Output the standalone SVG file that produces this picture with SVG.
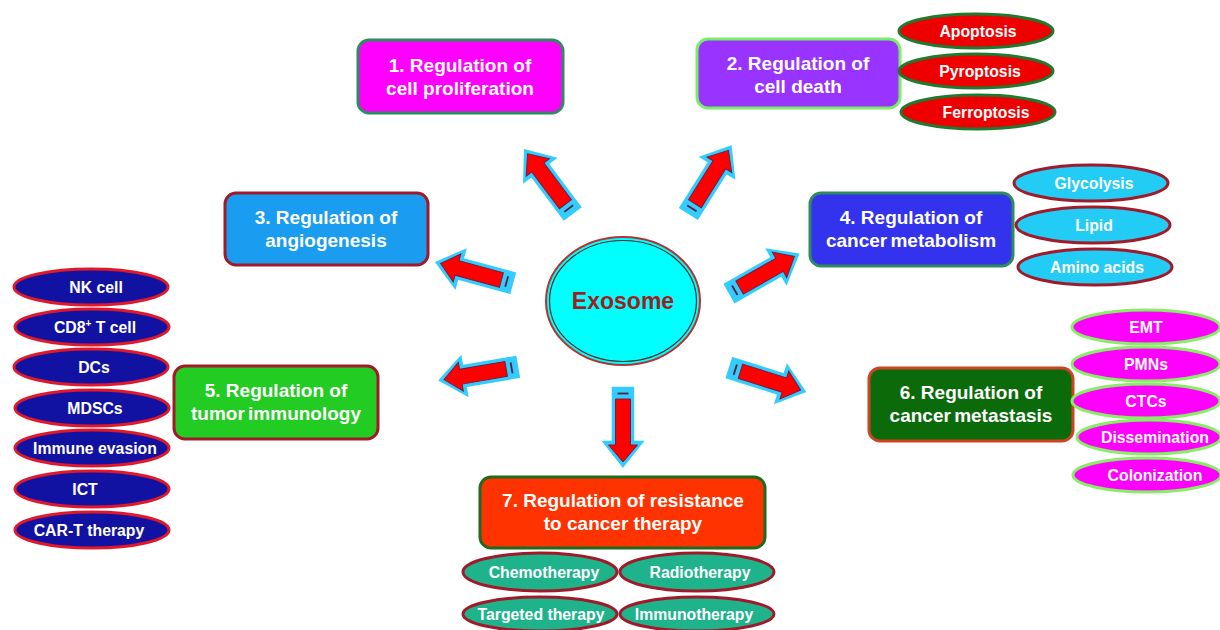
<svg xmlns="http://www.w3.org/2000/svg" xmlns:xlink="http://www.w3.org/1999/xlink" width="1220" height="630" viewBox="0 0 1220 630">
<defs>
<style>
text{font-family:"Liberation Sans",Arial,sans-serif;font-weight:bold;text-anchor:middle}
.bt{font-size:19px;fill:#ffffff}
.et{font-size:15.8px;fill:#ffffff}
.box{stroke-width:3}
.ell{stroke-width:3}
.red{fill:#EE0000;stroke:#1E7A2E}
.cy{fill:#22CCF5;stroke:#A01A2A}
.nv{fill:#1212A2;stroke:#E0182A}
.mg{fill:#FF00FF;stroke:#88EE66}
.tl{fill:#1FB38C;stroke:#A01A2A}
.tight{word-spacing:-2px}
</style>
<g id="arr">
<polygon points="0,-10 54,-10 54,-19 78,0 54,19 54,10 0,10" fill="#33CCFF" stroke="#33CCFF" stroke-width="2.5" stroke-linejoin="miter"/>
<polygon points="11,-7.5 57,-7.5 57,-14.5 74,0 57,14.5 57,7.5 11,7.5" fill="#FF0000" stroke="#7A1A3A" stroke-width="1"/>
<line x1="5.5" y1="-5.5" x2="5.5" y2="5.5" stroke="#5A2040" stroke-width="1.8"/>
</g>
</defs>
<rect width="1220" height="630" fill="#ffffff"/>

<g id="connectors">
<use xlink:href="#arr" transform="translate(572,213) rotate(-126.9)"/>
<use xlink:href="#arr" transform="translate(689,213) rotate(-57.8)"/>
<use xlink:href="#arr" transform="translate(512,283) rotate(195.3)"/>
<use xlink:href="#arr" transform="translate(730,293) rotate(-29.6)"/>
<use xlink:href="#arr" transform="translate(517,367) rotate(170.2)"/>
<use xlink:href="#arr" transform="translate(730,368) rotate(17.4)"/>
<use xlink:href="#arr" transform="translate(623,388) rotate(90)"/>
</g>

<g id="exosome">
<ellipse cx="623" cy="301" rx="77" ry="64" fill="#00FFFF" stroke="#B83030" stroke-width="2"/>
<ellipse cx="623" cy="301" rx="73.5" ry="60.5" fill="none" stroke="#3A2A2A" stroke-width="1.2"/>
<text x="623" y="309" style="font-size:23px;fill:#A01E1E">Exosome</text>
</g>

<g id="n1">
<rect class="box" x="358" y="40" width="205" height="73" rx="11" fill="#FF00FF" stroke="#2E8B60"/>
<text class="bt" x="460" y="72">1. Regulation of</text>
<text class="bt" x="460" y="95">cell proliferation</text>
</g>

<g id="n2">
<rect class="box" x="697" y="39" width="203" height="69" rx="11" fill="#9933FF" stroke="#77EE66"/>
<text class="bt" x="798" y="70">2. Regulation of</text>
<text class="bt" x="798" y="93">cell death</text>
<ellipse class="ell red" cx="976" cy="31" rx="77" ry="17"/>
<text class="et" x="978" y="37">Apoptosis</text>
<ellipse class="ell red" cx="976" cy="71" rx="77" ry="17"/>
<text class="et" x="980" y="77">Pyroptosis</text>
<ellipse class="ell red" cx="978" cy="112" rx="77" ry="17"/>
<text class="et" x="986" y="118">Ferroptosis</text>
</g>

<g id="n3">
<rect class="box" x="225" y="193" width="203" height="72" rx="11" fill="#1A9CF0" stroke="#A01A2A"/>
<text class="bt" x="326" y="224">3. Regulation of</text>
<text class="bt" x="326" y="247">angiogenesis</text>
</g>

<g id="n4">
<rect class="box" x="810" y="193" width="203" height="73" rx="11" fill="#3333EE" stroke="#2E8B60"/>
<text class="bt" x="911" y="224">4. Regulation of</text>
<text class="bt tight" x="911" y="247">cancer metabolism</text>
<ellipse class="ell cy" cx="1091" cy="183" rx="77" ry="18"/>
<text class="et" x="1094" y="189">Glycolysis</text>
<ellipse class="ell cy" cx="1093" cy="225" rx="77" ry="18"/>
<text class="et" x="1094" y="231">Lipid</text>
<ellipse class="ell cy" cx="1095" cy="267" rx="77" ry="18"/>
<text class="et" x="1097" y="273">Amino acids</text>
</g>

<g id="n5">
<rect class="box" x="174" y="366" width="204" height="73" rx="11" fill="#22CC22" stroke="#A01A2A"/>
<text class="bt" x="276" y="397">5. Regulation of</text>
<text class="bt tight" x="276" y="420">tumor immunology</text>
<ellipse class="ell nv" cx="91" cy="287" rx="77" ry="18"/>
<text class="et" x="96" y="293">NK cell</text>
<ellipse class="ell nv" cx="92" cy="327" rx="77" ry="18"/>
<text class="et" x="95" y="333">CD8<tspan dy="-6" style="font-size:10px">+</tspan><tspan dy="6"> T cell</tspan></text>
<ellipse class="ell nv" cx="91" cy="367" rx="77" ry="18"/>
<text class="et" x="94" y="373">DCs</text>
<ellipse class="ell nv" cx="92" cy="408" rx="77" ry="18"/>
<text class="et" x="95" y="414">MDSCs</text>
<ellipse class="ell nv" cx="92" cy="448" rx="77" ry="18"/>
<text class="et" x="95" y="454">Immune evasion</text>
<ellipse class="ell nv" cx="92" cy="489" rx="77" ry="18"/>
<text class="et" x="85" y="495">ICT</text>
<ellipse class="ell nv" cx="92" cy="530" rx="77" ry="18"/>
<text class="et" x="89" y="536">CAR-T therapy</text>
</g>

<g id="n6">
<rect class="box" x="869" y="368" width="204" height="73" rx="11" fill="#0B6B0B" stroke="#CC4422"/>
<text class="bt" x="971" y="399">6. Regulation of</text>
<text class="bt tight" x="971" y="422">cancer metastasis</text>
<ellipse class="ell mg" cx="1146" cy="327" rx="74" ry="17"/>
<text class="et" x="1146" y="333">EMT</text>
<ellipse class="ell mg" cx="1146" cy="364" rx="74" ry="17"/>
<text class="et" x="1146" y="370">PMNs</text>
<ellipse class="ell mg" cx="1146" cy="401" rx="74" ry="17"/>
<text class="et" x="1146" y="407">CTCs</text>
<ellipse class="ell mg" cx="1149" cy="437" rx="72" ry="17"/>
<text class="et" x="1155" y="443">Dissemination</text>
<ellipse class="ell mg" cx="1147" cy="475" rx="74" ry="17"/>
<text class="et" x="1155" y="481">Colonization</text>
</g>

<g id="n7">
<rect class="box" x="480" y="477" width="285" height="71" rx="11" fill="#FF3300" stroke="#1E6B1E"/>
<text class="bt" x="623" y="507">7. Regulation of resistance</text>
<text class="bt" x="623" y="530">to cancer therapy</text>
<ellipse class="ell tl" cx="540" cy="572" rx="77" ry="19"/>
<text class="et" x="544" y="578">Chemotherapy</text>
<ellipse class="ell tl" cx="697" cy="572" rx="77" ry="19"/>
<text class="et" x="700" y="578">Radiotherapy</text>
<ellipse class="ell tl" cx="540" cy="614" rx="77" ry="17"/>
<text class="et" x="541" y="620">Targeted therapy</text>
<ellipse class="ell tl" cx="697" cy="614" rx="77" ry="17"/>
<text class="et" x="694" y="620">Immunotherapy</text>
</g>
</svg>
